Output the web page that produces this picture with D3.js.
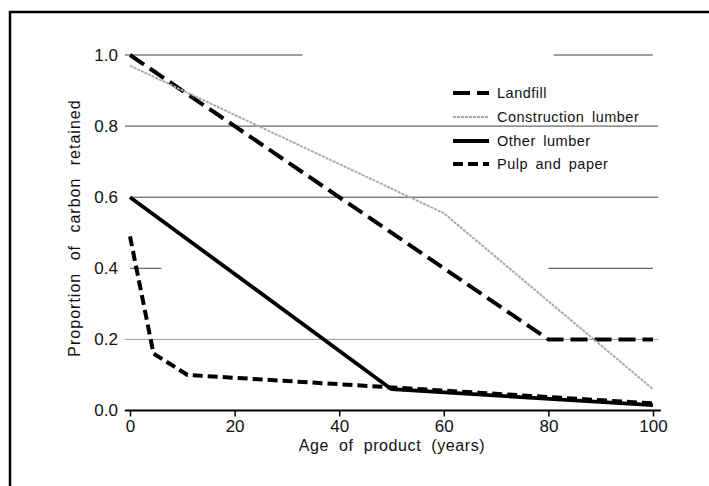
<!DOCTYPE html>
<html>
<head>
<meta charset="utf-8">
<script src="https://cdn.jsdelivr.net/npm/d3@7"></script>
<style>
  body { margin: 0; background: #fff; }
  text { font-family: "Liberation Sans", Arial, sans-serif; fill: #111; }
</style>
</head>
<body>
<svg id="chart" width="709" height="486"></svg>
<script>
// series (age in years, proportion of carbon retained)
let landfillAge = [0, 80, 100];
let landfillC = [1.0, 0.2, 0.2];
let constructionAge = [0, 60, 100];
let constructionC = [0.97, 0.555, 0.06];
let otherAge = [0, 50, 100];
let otherC = [0.6, 0.06, 0.015];
let pulpAge = [0, 4.5, 11, 50, 100];
let pulpC = [0.49, 0.16, 0.10, 0.065, 0.02];

let seriesNames = ["Landfill", "Construction lumber", "Other lumber", "Pulp and paper"];
let xTicks = [0, 20, 40, 60, 80, 100];
let yTicks = [0, 0.2, 0.4, 0.6, 0.8, 1.0];

// gridline pieces that survived the scan: [level, from age, to age]
let gridLevels = [1.0, 1.0, 0.8, 0.6, 0.4, 0.4, 0.2];
let gridFrom = [-1, 81, -1, 0, 0, 80, -1];
let gridTo = [33, 100, 101, 101, 6, 100, 101];

let svg = d3.select("#chart");

let x = d3.scaleLinear().domain([0, 100]).range([130, 653]);
let y = d3.scaleLinear().domain([0, 1]).range([410.5, 55]);

// frame round the figure
svg.append("rect")
    .attr("x", 10).attr("y", 12)
    .attr("width", 720).attr("height", 500)
    .style("fill", "none")
    .style("stroke", "#000")
    .style("stroke-width", 2.5);

// gridlines
for (let i = 0; i < gridLevels.length; i++) {
    svg.append("line")
        .attr("x1", x(gridFrom[i])).attr("x2", x(gridTo[i]))
        .attr("y1", y(gridLevels[i])).attr("y2", y(gridLevels[i]))
        .style("stroke", gridLevels[i] === 0.2 ? "#999" : "#444")
        .style("stroke-width", 1);
}

// x axis
let xAxis = d3.axisBottom(x).tickValues(xTicks).tickSize(6).tickSizeOuter(0).tickPadding(3);
let gx = svg.append("g").attr("transform", "translate(0," + y(0) + ")").call(xAxis);
gx.select(".domain").remove();
gx.selectAll(".tick line").style("stroke", "#000").style("stroke-width", 1.5);
gx.selectAll(".tick text").style("font-size", "17px").style("font-family", "Liberation Sans, Arial, sans-serif");
svg.append("line") // baseline
    .attr("x1", x(-1)).attr("x2", x(101.5))
    .attr("y1", y(0)).attr("y2", y(0))
    .style("stroke", "#000").style("stroke-width", 2);

// y axis, labels only
let yAxis = d3.axisLeft(y).tickValues(yTicks).tickFormat(d3.format(".1f")).tickSize(0).tickPadding(4);
let gy = svg.append("g").attr("transform", "translate(122,0)").call(yAxis);
gy.select(".domain").remove();
gy.selectAll(".tick text").style("font-size", "17px").style("font-family", "Liberation Sans, Arial, sans-serif");

// axis titles
svg.append("text")
    .attr("x", 392).attr("y", 451)
    .attr("text-anchor", "middle")
    .style("font-size", "16px")
    .style("letter-spacing", "0.6px")
    .style("word-spacing", "5px")
    .text("Age of product (years)");
svg.append("text")
    .attr("transform", "translate(80,228) rotate(-90)")
    .attr("text-anchor", "middle")
    .style("font-size", "16px")
    .style("letter-spacing", "1px")
    .style("word-spacing", "7px")
    .text("Proportion of carbon retained");

// line styles per series
let styles = [
    { color: "#000", width: 4, dash: "17,7" },
    { color: "#aaa", width: 2, dash: "3,1" },
    { color: "#000", width: 3.8, dash: null },
    { color: "#000", width: 4, dash: "10,5" }
];
let seriesAges = [landfillAge, constructionAge, otherAge, pulpAge];
let seriesVals = [landfillC, constructionC, otherC, pulpC];

let line = d3.line().x(d => x(d[0])).y(d => y(d[1]));

for (let s = 0; s < seriesNames.length; s++) {
    let pts = d3.zip(seriesAges[s], seriesVals[s]);
    svg.append("path")
        .datum(pts)
        .attr("d", line)
        .style("fill", "none")
        .style("stroke", styles[s].color)
        .style("stroke-width", styles[s].width)
        .style("stroke-dasharray", styles[s].dash)
        .style("stroke-linejoin", "round");
}

// legend
let legendX = 453;
let legendY = [93, 117, 141, 164];
for (let s = 0; s < seriesNames.length; s++) {
    svg.append("line")
        .attr("x1", legendX).attr("x2", legendX + 36)
        .attr("y1", legendY[s]).attr("y2", legendY[s])
        .style("stroke", styles[s].color)
        .style("stroke-width", styles[s].width)
        .style("stroke-dasharray", styles[s].dash);
    svg.append("text")
        .attr("x", legendX + 44).attr("y", legendY[s] + 5)
        .style("font-size", "14.5px")
        .style("letter-spacing", "0.5px")
        .style("word-spacing", "3px")
        .text(seriesNames[s]);
}
</script>
</body>
</html>
